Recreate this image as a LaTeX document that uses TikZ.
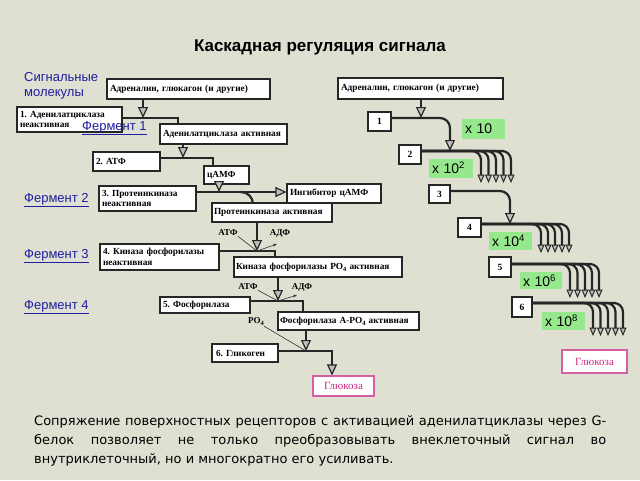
\documentclass[tikz,border=0pt]{standalone}
\usepackage{fontspec}
\setmainfont{Liberation Serif}
\setsansfont{Liberation Sans}
\newfontfamily\notefont{DejaVu Sans}
\usetikzlibrary{arrows.meta}
\definecolor{bgc}{RGB}{224,224,210}
\definecolor{lblue}{RGB}{30,30,160}
\definecolor{gfill}{RGB}{150,232,140}
\definecolor{pinkc}{RGB}{200,40,130}
\pgfdeclarelayer{back}
\pgfdeclarelayer{bg}
\pgfsetlayers{back,bg,main}
\newcommand{\sbsc}[1]{\raisebox{-2pt}{\fontsize{6.5}{6.5}\selectfont #1}}
\newcommand{\spsc}[1]{\raisebox{5pt}{\fontsize{9.5}{9.5}\selectfont #1}}
\newcommand{\one}[1]{\mbox{#1}}
\frenchspacing
\begin{document}
\begin{tikzpicture}[x=1pt,y=-1pt,
 bx/.style={draw=black!85, line width=1.1pt, fill=white, inner xsep=3pt, inner ysep=0pt, align=left, font=\fontsize{9.3}{10.5}\selectfont\bfseries},
 nb/.style={draw=black!85, line width=1.1pt, fill=white, inner sep=0pt, font=\fontsize{9.5}{10}\selectfont\bfseries},
 gb/.style={fill=gfill, inner xsep=3pt, inner ysep=0pt, font=\sffamily\fontsize{14}{16}\selectfont, align=left},
 gl/.style={draw=pinkc!75, line width=1.1pt, fill=white, text=pinkc, inner sep=0pt, font=\fontsize{11}{12}\selectfont},
 lbl/.style={text=lblue, font=\sffamily\fontsize{13}{15}\selectfont, inner sep=0pt, anchor=west, align=left},
 sm/.style={font=\fontsize{9}{10}\selectfont\bfseries, inner sep=0pt},
 thk/.style={line width=2.2pt, draw=black!85},
 thn/.style={line width=0.6pt, draw=black!80},
 tri/.tip={Triangle[length=11pt,width=10pt,fill=black!25,line width=1.2pt]},
 ftri/.tip={Triangle[length=8.5pt,width=7pt,fill=black!25,line width=1pt]},
 stl/.tip={Stealth[length=4pt,width=3pt]},
 note/.style={font=\notefont\fontsize{13}{19}\selectfont, inner sep=0pt, anchor=base west}
]
\begin{pgfonlayer}{back}
\fill[bgc] (0,0) rectangle (640,480);
\end{pgfonlayer}
\useasboundingbox (0,0) rectangle (640,480);

% title
\node[font=\sffamily\bfseries\fontsize{17}{20}\selectfont, inner sep=0pt] (title) at (320,47) {Каскадная регуляция сигнала};

% left labels
\node[lbl] (sig) at (24,85.5) {Сигнальные\\молекулы};
\node[lbl] (f2) at (24,200) {\underline{Фермент 2}};
\node[lbl] (f3) at (24,256) {\underline{Фермент 3}};
\node[lbl] (f4) at (24,307) {\underline{Фермент 4}};

% left boxes
\node[bx, text width=157pt, minimum height=20pt] (A) at (188.5,89) {\one{Адреналин, глюкагон (и другие)}};
\node[bx, text width=99pt, minimum height=25pt] (B1) at (69.5,119.5) {\one{1. Аденилатциклаза}\\\one{неактивная}};
\node[bx, text width=121pt, minimum height=20pt] (AC) at (223.5,134) {\one{Аденилатциклаза активная}};
\node[bx, text width=61pt, minimum height=19pt] (B2) at (126.5,161.5) {\one{2. АТФ}};
\node[bx, text width=39pt, minimum height=18pt] (cAMP) at (226.5,175) {\one{цАМФ}};
\node[bx, text width=91pt, minimum height=25pt] (B3) at (147.5,198.5) {\one{3. Протеинкиназа}\\\one{неактивная}};
\node[bx, text width=88pt, minimum height=19pt] (Inh) at (334,193.5) {\one{Ингибитор цАМФ}};
\node[bx, text width=116pt, inner xsep=2pt, minimum height=19pt] (PKa) at (272,212.5) {\one{Протеинкиназа активная}};
\node[bx, text width=113pt, minimum height=26pt] (B4) at (159.5,257) {\one{4. Киназа фосфорилазы}\\\one{неактивная}};
\node[bx, text width=164pt, inner xsep=2pt, minimum height=20pt] (KF) at (318,267) {\one{Киназа фосфорилазы PO\sbsc{4} активная}};
\node[bx, text width=84pt, minimum height=16pt] (B5) at (205,305) {\one{5. Фосфорилаза}};
\node[bx, text width=137pt, inner xsep=2pt, minimum height=18pt] (FA) at (348.5,321) {\one{Фосфорилаза А-PO\sbsc{4} активная}};
\node[bx, text width=58pt, inner xsep=4pt, minimum height=18pt] (B6) at (245,353) {\one{6. Гликоген}};
\node[gl, minimum width=61pt, minimum height=20pt] (GL) at (343.5,386) {Глюкоза};
\node[lbl] (f1) at (82,128) {\underline{Фермент 1}};

\node[sm] (atf1) at (228,233) {АТФ};
\node[sm] (adf1) at (280,233) {АДФ};
\node[sm] (atf2) at (248,287) {АТФ};
\node[sm] (adf2) at (302,287) {АДФ};
\node[sm] (po4) at (256,322) {PO\sbsc{4}};

% right boxes
\node[bx, text width=159pt, minimum height=21pt] (RA) at (420.5,88.5) {\one{Адреналин, глюкагон (и другие)}};
\node[nb, minimum width=23pt, minimum height=19pt] (R1) at (379.5,121.5) {1};
\node[nb, minimum width=22pt, minimum height=19pt] (R2) at (410,154.5) {2};
\node[nb, minimum width=21pt, minimum height=18pt] (R3) at (439.5,194) {3};
\node[nb, minimum width=23pt, minimum height=19pt] (R4) at (469.5,227.5) {4};
\node[nb, minimum width=22pt, minimum height=20pt] (R5) at (500,267) {5};
\node[nb, minimum width=20pt, minimum height=20pt] (R6) at (522,307) {6};
\node[gl, minimum width=65pt, minimum height=23pt] (RGL) at (594.5,361.5) {Глюкоза};

\node[gb, text width=37pt, minimum height=20pt] (g1) at (483.5,129) {x 10};
\node[gb, text width=38pt, minimum height=19pt] (g2) at (451,168) {x 10\spsc{2}};
\node[gb, text width=37pt, minimum height=18pt] (g4) at (510.5,241) {x 10\spsc{4}};
\node[gb, text width=36pt, minimum height=17pt] (g6) at (541,280.5) {x 10\spsc{6}};
\node[gb, text width=37pt, minimum height=18pt] (g8) at (563.5,321) {x 10\spsc{8}};

% bottom note
\node[note] (n1) at (34,425) {\makebox[572pt][s]{Сопряжение поверхностных рецепторов с активацией аденилатциклазы через G-}};
\node[note] (n2) at (34,444) {\makebox[572pt][s]{белок позволяет не только преобразовывать внеклеточный сигнал во}};
\node[note] (n3) at (34,463) {внутриклеточный, но и многократно его усиливать.};

% junctions
\coordinate (j1) at (143,118);
\coordinate (j2) at (183,158);
\coordinate (j3) at (219,192);
\coordinate (j4) at (257,251);
\coordinate (j5) at (278,301);
\coordinate (j6) at (306,351);
\coordinate (a4) at (277,244);
\coordinate (a5) at (297,295);
\coordinate (jr1) at (421,118);
\coordinate (jr2) at (450,151);
\coordinate (jr3) at (510,224);

\begin{pgfonlayer}{bg}
\draw[thk] (B1.east |- j1) -- (178,118) -- (178,132);
\draw[thk] (B2.east |- j2) -- (213,158) -- (213,172);
\draw[thk,-{tri}] (B3.east |- j3) -- (Inh.west |- j3);
\draw[thk,rounded corners=12pt] (240,192) -- (253,192) -- (253,210);
\draw[thk] (B4.east |- j4) -- (275,251) -- (275,264);
\draw[thk] (B5.east |- j5) -- (303,301) -- (303,318);
\draw[thk,-{tri}] (B6.east |- j6) -- (332,351) -- (GL.north -| 332,0);
\end{pgfonlayer}

\draw[thk,-{tri}] (A.south -| j1) -- (j1);
\draw[thk,-{tri}] (AC.south -| j2) -- (j2);
\draw[thk,-{tri}] (cAMP.south -| j3) -- (j3);
\draw[thk,-{tri}] (PKa.south -| j4) -- (j4);
\draw[thk,-{tri}] (KF.south -| j5) -- (j5);
\draw[thk,-{tri}] (FA.south -| j6) -- (j6);
\draw[thn] (atf1.south east) -- (j4);
\draw[thn,-{stl}] (j4) -- (a4);
\draw[thn] (atf2.south east) -- (j5);
\draw[thn,-{stl}] (j5) -- (a5);
\draw[thn] (po4.south east) -- (j6);

% right cascade
\draw[thk,-{tri}] (RA.south -| jr1) -- (jr1);
\draw[thk,rounded corners=10pt,-{tri}] (R1.east |- jr1) -- (450,118) -- (jr2);
\foreach \xx in {481,488.5,496,503.5,511}
  \draw[thk,rounded corners=9pt,-{ftri}] (R2.east |- jr2) -- (\xx,151) -- (\xx,183);
\draw[thk,rounded corners=10pt,-{tri}] ([yshift=3pt]R3.east) -- (510,191) -- (jr3);
\foreach \xx in {541,548,555,562,569}
  \draw[thk,rounded corners=9pt,-{ftri}] (R4.east |- jr3) -- (\xx,224) -- (\xx,253);
\foreach \xx in {570,577.5,585,592,599}
  \draw[thk,rounded corners=9pt,-{ftri}] ([yshift=3pt]R5.east) -- (\xx,264) -- (\xx,298);
\foreach \xx in {593,600.5,608,615.5,623}
  \draw[thk,rounded corners=9pt,-{ftri}] ([yshift=4pt]R6.east) -- (\xx,303) -- (\xx,336);
\end{tikzpicture}
\end{document}
